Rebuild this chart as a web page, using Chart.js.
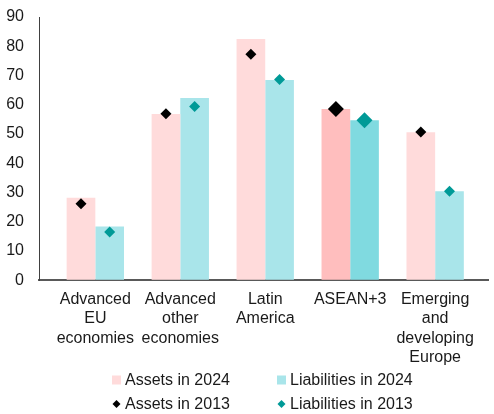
<!DOCTYPE html>
<html lang="en">
<head>
  <meta charset="UTF-8">
  <title>Assets and liabilities by region</title>
  <script src="https://cdn.jsdelivr.net/npm/chart.js@4"></script>
  <style>
    html, body { margin: 0; padding: 0; background: #fff; }
    #wrap { width: 494px; height: 414px; }
  </style>
</head>
<body>
  <div id="wrap"><canvas id="regionChart"></canvas></div>

  <script>
    const categories = [
      ["Advanced", "EU", "economies"],
      ["Advanced", "other", "economies"],
      ["Latin", "America"],
      ["ASEAN+3"],
      ["Emerging", "and", "developing", "Europe"]
    ];
    const assets2024 = [28.2, 56.8, 82.5, 58.5, 50.6];
    const liabilities2024 = [18.4, 62.3, 68.5, 54.7, 30.4];
    const assets2013 = [26.1, 56.9, 77.3, 58.5, 50.7];
    const liabilities2013 = [16.5, 59.4, 68.6, 54.7, 30.4];
    const yTicks = [0, 10, 20, 30, 40, 50, 60, 70, 80, 90];

    const highlight = 3; // ASEAN+3 is drawn darker
    const catPct = 0.675;
    const half = catPct / 4; // centre of each bar inside its group

    const font = { family: "'Liberation Sans', Arial, sans-serif", size: 16 };

    // 2x2 legend under the axis labels
    const gridLegend = {
      id: "gridLegend",
      afterDraw(chart) {
        const ctx = chart.ctx;
        const area = chart.chartArea;
        const x0 = Math.round((area.left + area.right) / 2 - 152);
        const cols = [x0, x0 + 165];
        const rows = [chart.height - 34, chart.height - 10];
        ctx.save();
        ctx.font = "16px " + font.family;
        ctx.textBaseline = "middle";
        ctx.textAlign = "left";
        chart.data.datasets.forEach((ds, i) => {
          const x = cols[i % 2];
          const y = rows[Math.floor(i / 2)];
          if (ds.type === "line") {
            ctx.fillStyle = ds.pointBackgroundColor;
            ctx.beginPath();
            ctx.moveTo(x + 4.5, y - 4);
            ctx.lineTo(x + 8.5, y);
            ctx.lineTo(x + 4.5, y + 4);
            ctx.lineTo(x + 0.5, y);
            ctx.closePath();
            ctx.fill();
          } else {
            ctx.fillStyle = ds.legendColor;
            ctx.fillRect(x, y - 4.5, 9, 9);
          }
          ctx.fillStyle = "#1a1a1a";
          ctx.fillText(ds.label, x + 13, y + 1);
        });
        ctx.restore();
      }
    };

    const ctx = document.getElementById("regionChart").getContext("2d");
    new Chart(ctx, {
      type: "bar",
      data: {
        datasets: [
          {
            label: "Assets in 2024",
            data: assets2024.map((v, i) => ({ x: i, y: v })),
            backgroundColor: c => c.dataIndex === highlight ? "#ffbebe" : "#ffdbdb",
            legendColor: "#ffdbdb",
            categoryPercentage: catPct,
            barPercentage: 1,
            order: 2
          },
          {
            label: "Liabilities in 2024",
            data: liabilities2024.map((v, i) => ({ x: i, y: v })),
            backgroundColor: c => c.dataIndex === highlight ? "#80dae0" : "#a9e5ea",
            legendColor: "#a9e5ea",
            categoryPercentage: catPct,
            barPercentage: 1,
            order: 2
          },
          {
            type: "line",
            label: "Assets in 2013",
            data: assets2013.map((v, i) => ({ x: i - half, y: v })),
            showLine: false,
            pointStyle: "rectRot",
            pointRadius: c => c.dataIndex === highlight ? 8 : 5.5,
            pointBackgroundColor: "#000000",
            pointBorderWidth: 0,
            order: 1
          },
          {
            type: "line",
            label: "Liabilities in 2013",
            data: liabilities2013.map((v, i) => ({ x: i + half, y: v })),
            showLine: false,
            pointStyle: "rectRot",
            pointRadius: c => c.dataIndex === highlight ? 8 : 5.5,
            pointBackgroundColor: "#009a97",
            pointBorderWidth: 0,
            order: 1
          }
        ]
      },
      options: {
        responsive: true,
        maintainAspectRatio: false,
        animation: false,
        layout: { padding: { top: 17, left: 6, right: 0, bottom: 37 } },
        plugins: {
          legend: { display: false },
          tooltip: { enabled: false }
        },
        scales: {
          x: {
            type: "linear",
            offset: false,
            min: -0.663,
            max: 4.628,
            grid: { drawOnChartArea: false, drawTicks: false, offset: false },
            border: { color: "#595959", width: 2 },
            ticks: {
              stepSize: 1,
              includeBounds: false,
              autoSkip: false,
              maxRotation: 0,
              padding: 10,
              color: "#1a1a1a",
              font: font,
              callback: v => categories[v] || ""
            }
          },
          y: {
            min: yTicks[0],
            max: yTicks[yTicks.length - 1],
            grid: { drawOnChartArea: false, drawTicks: false },
            border: { color: "#404040", width: 1 },
            afterBuildTicks: axis => { axis.ticks = yTicks.map(v => ({ value: v })); },
            afterFit: axis => { axis.width = 33; axis.paddingTop = 0; },
            ticks: {
              padding: 15,
              color: "#1a1a1a",
              font: font
            }
          }
        }
      },
      plugins: [gridLegend]
    });
  </script>
</body>
</html>
